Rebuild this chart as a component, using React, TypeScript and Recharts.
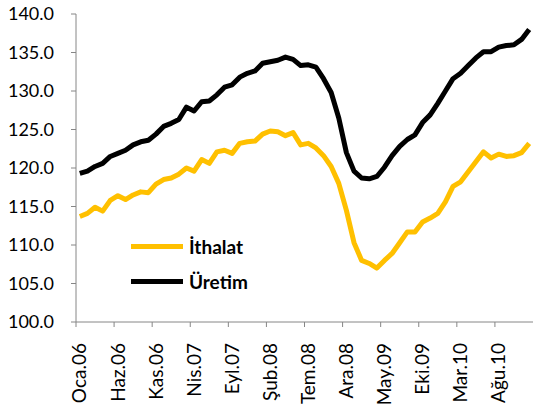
import React from 'react';
import { LineChart, Line, XAxis, YAxis } from 'recharts';

const monthNames = ['Oca', 'Şub', 'Mar', 'Nis', 'May', 'Haz', 'Tem', 'Ağu', 'Eyl', 'Eki', 'Kas', 'Ara'];
const years = ['06', '07', '08', '09', '10'];

const uretim = [
  119.3, 119.6, 120.2, 120.6, 121.5, 121.9, 122.3, 123.0, 123.4, 123.6,
  124.4, 125.4, 125.8, 126.3, 127.9, 127.4, 128.6, 128.7, 129.5, 130.5,
  130.8, 131.8, 132.3, 132.6, 133.6, 133.8, 134.0, 134.4, 134.1, 133.3,
  133.4, 133.1, 131.6, 129.8, 126.5, 122.0, 119.6, 118.7, 118.6, 118.9,
  120.1, 121.6, 122.8, 123.7, 124.3, 125.9, 126.9, 128.4, 130.0, 131.6,
  132.3, 133.3, 134.3, 135.1, 135.1, 135.7, 135.9, 136.0, 136.7, 138.0,
];

const ithalat = [
  113.7, 114.1, 114.9, 114.4, 115.8, 116.4, 115.9, 116.5, 116.9, 116.8,
  117.9, 118.5, 118.7, 119.2, 120.0, 119.6, 121.1, 120.6, 122.1, 122.3,
  121.9, 123.2, 123.4, 123.5, 124.4, 124.8, 124.7, 124.2, 124.6, 123.0,
  123.2, 122.6, 121.6, 120.2, 118.0, 114.5, 110.3, 108.0, 107.6, 107.0,
  108.0, 108.9, 110.3, 111.7, 111.7, 113.0, 113.5, 114.1, 115.6, 117.6,
  118.2, 119.5, 120.8, 122.1, 121.3, 121.8, 121.5, 121.6, 122.0, 123.2,
];

const yTicks = [100, 105, 110, 115, 120, 125, 130, 135, 140];
const xTicks = [0, 5, 10, 15, 20, 25, 30, 35, 40, 45, 50, 55];

const labels = years.flatMap((y) => monthNames.map((m) => `${m}.${y}`));

const data = uretim.map((u, i) => ({ i, label: labels[i], uretim: u, ithalat: ithalat[i] }));

const WIDTH = 534;
const HEIGHT = 412;
const Y_AXIS_W = 76;
const RIGHT = 1;
const HALF_STEP = (WIDTH - Y_AXIS_W - RIGHT) / data.length / 2;
const FONT = 'Lato, "Open Sans", sans-serif';
const AXIS_COLOR = '#868686';

const legendItems = [
  { name: 'İthalat', color: '#FFC000' },
  { name: 'Üretim', color: '#000000' },
];

const XTick = ({ x, y, payload }: any) => (
  <g>
    <line x1={x - HALF_STEP} y1={y} x2={x - HALF_STEP} y2={y + 5} stroke={AXIS_COLOR} strokeWidth={1} />
    <text
      x={x}
      y={y + 21}
      transform={`rotate(-90, ${x}, ${y + 21})`}
      textAnchor="end"
      dy="0.35em"
      fontSize={19}
      fontFamily={FONT}
      fill="#000"
    >
      {labels[payload.value]}
    </text>
  </g>
);

export default function App() {
  return (
    <div style={{ position: 'absolute', left: 0, top: 0, width: WIDTH, height: HEIGHT, background: '#fff' }}>
      <LineChart width={WIDTH} height={HEIGHT} data={data} margin={{ top: 14, right: RIGHT, bottom: 0, left: 0 }}>
        <XAxis
          dataKey="i"
          type="number"
          domain={[-0.5, data.length - 0.5]}
          ticks={xTicks}
          interval={0}
          height={90}
          tickSize={0}
          tickMargin={0}
          tickLine={false}
          axisLine={{ stroke: AXIS_COLOR, strokeWidth: 1 }}
          tick={<XTick />}
        />
        <YAxis
          domain={[100, 140]}
          ticks={yTicks}
          width={Y_AXIS_W}
          tickSize={5}
          tickMargin={17}
          axisLine={{ stroke: AXIS_COLOR, strokeWidth: 1 }}
          tickLine={{ stroke: AXIS_COLOR }}
          tick={{ fontSize: 18, fontFamily: FONT, fill: '#000' }}
          tickFormatter={(v: number) => v.toFixed(1)}
        />
        <Line dataKey="ithalat" name="İthalat" stroke="#FFC000" strokeWidth={5} dot={false} isAnimationActive={false} strokeLinejoin="round" />
        <Line dataKey="uretim" name="Üretim" stroke="#000000" strokeWidth={5} dot={false} isAnimationActive={false} strokeLinejoin="round" />
      </LineChart>
      <div style={{ position: 'absolute', left: 131, top: 229, fontFamily: FONT, fontWeight: 700, fontSize: 19, color: '#000' }}>
        {legendItems.map((s) => (
          <div key={s.name} style={{ display: 'flex', alignItems: 'center', height: 35 }}>
            <div style={{ width: 52, height: 5, background: s.color, marginRight: 6 }} />
            <span>{s.name}</span>
          </div>
        ))}
      </div>
    </div>
  );
}
